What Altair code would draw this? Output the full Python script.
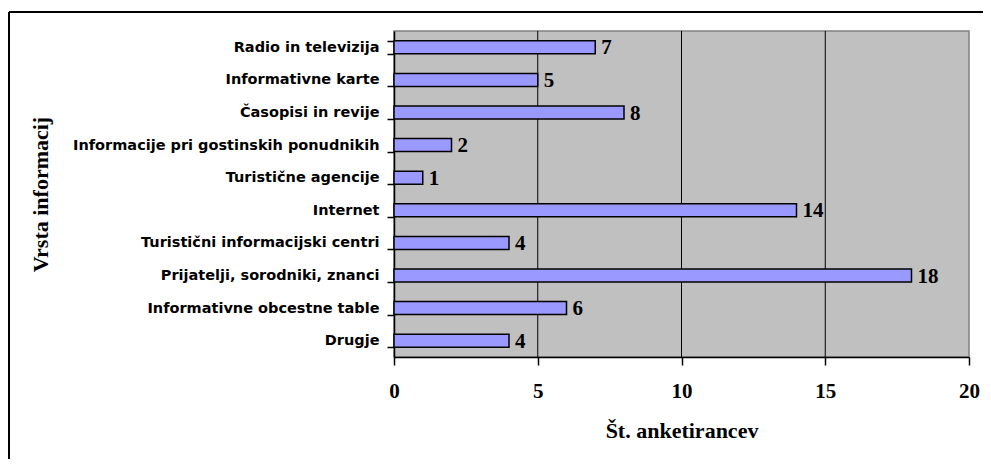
import altair as alt
import pandas as pd

categories = [
    "Radio in televizija",
    "Informativne karte",
    "Časopisi in revije",
    "Informacije pri gostinskih ponudnikih",
    "Turistične agencije",
    "Internet",
    "Turistični informacijski centri",
    "Prijatelji, sorodniki, znanci",
    "Informativne obcestne table",
    "Drugje",
]
values = [7, 5, 8, 2, 1, 14, 4, 18, 6, 4]
x_ticks = [0, 5, 10, 15, 20]
grid_values = [5, 10, 15]

W, H = 575, 326

df = pd.DataFrame({"cat": categories, "val": values})
gdf = pd.DataFrame({"g": grid_values})

x_scale = alt.Scale(domain=[0, 20], nice=False, zero=True)
y_scale = alt.Scale(domain=categories, paddingInner=0.6, paddingOuter=0.3)

x_axis = alt.Axis(
    values=x_ticks,
    title="Št. anketirancev",
    grid=False,
    labelFlush=False,
    labelFont="Liberation Serif",
    labelFontWeight="bold",
    labelFontSize=21,
    labelColor="black",
    labelPadding=15,
    tickSize=8,
    tickColor="black",
    tickWidth=1.5,
    domainColor="black",
    domainWidth=1.5,
    titleFont="Liberation Serif",
    titleFontWeight="bold",
    titleFontSize=22,
    titleColor="black",
    titleX=W / 2,
    titleY=73,
    titleBaseline="middle",
    titleAlign="center",
)

y_axis = alt.Axis(
    title="Vrsta informacij",
    labelFont="DejaVu Sans",
    labelFontWeight="bold",
    labelFontSize=14.5,
    labelColor="black",
    labelPadding=8,
    labelLimit=400,
    tickBand="extent",
    tickSize=7,
    tickColor="black",
    tickWidth=1.5,
    domainColor="black",
    domainWidth=1.5,
    titleFont="Liberation Serif",
    titleFontWeight="bold",
    titleFontSize=22,
    titleColor="black",
    titleAngle=-90,
    titleX=-354,
    titleY=H / 2,
    titleAlign="center",
    titleBaseline="middle",
)

bars = alt.Chart(df).mark_bar(
    color="#9999ff", stroke="black", strokeWidth=1.5
).encode(
    x=alt.X("val:Q", scale=x_scale, axis=x_axis),
    y=alt.Y("cat:N", scale=y_scale, sort=categories, axis=y_axis),
)

grid = alt.Chart(gdf).mark_rule(color="black", strokeWidth=1).encode(
    x=alt.X("g:Q", scale=x_scale, axis=x_axis)
)

texts = alt.Chart(df).mark_text(
    align="left",
    baseline="middle",
    dx=6,
    dy=1,
    font="Liberation Serif",
    fontWeight="bold",
    fontSize=21,
    color="black",
).encode(
    x=alt.X("val:Q", scale=x_scale, axis=x_axis),
    y=alt.Y("cat:N", scale=y_scale, sort=categories, axis=y_axis),
    text=alt.Text("val:Q"),
)

frame_top = alt.Chart(df).mark_rule(color="black", strokeWidth=2).encode(
    x=alt.value(-385), x2=alt.value(W + 14), y=alt.value(-19)
)
frame_left = alt.Chart(df).mark_rule(color="black", strokeWidth=2).encode(
    x=alt.value(-385), y=alt.value(-19), y2=alt.value(H + 102)
)

chart = (
    alt.layer(grid, bars, texts, frame_top, frame_left)
    .properties(
        width=W,
        height=H,
        padding={"left": 386, "top": 23, "right": 14, "bottom": 102},
        autosize=alt.AutoSizeParams(type="none"),
        background="white",
    )
    .configure_view(fill="#c0c0c0", stroke="#808080", strokeWidth=1.5)
)

chart.save("out.html", embed_options={"renderer": "svg", "actions": False})
